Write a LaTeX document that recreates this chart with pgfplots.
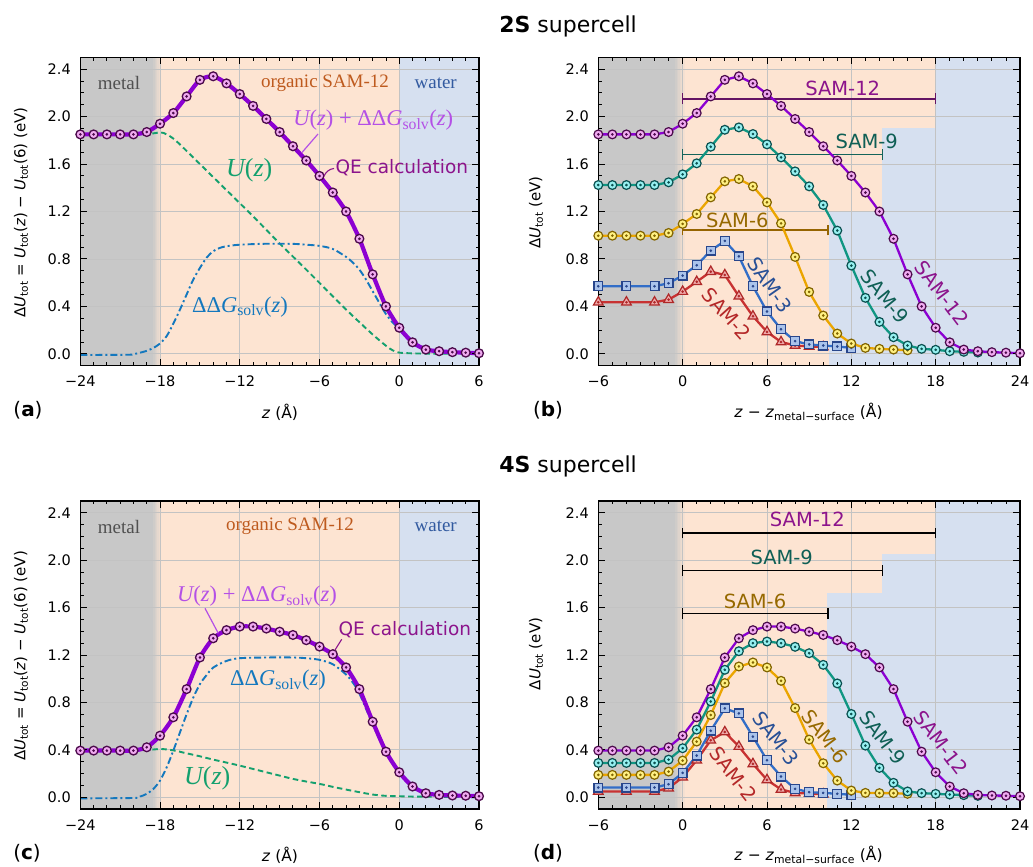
\documentclass[border=0pt]{standalone}
\usepackage{fontspec}
\setmainfont{DejaVu Sans}
\newfontfamily\lserif{Liberation Serif}
\usepackage{pgfplots}
\usepackage{pgfplotstable}
\pgfplotsset{compat=1.18}
\newcommand\fs[1]{\fontsize{#1}{#1}\selectfont}
\newcommand\tot{\textsubscript{tot}}
\newcommand\Uz{{\itshape U}({\itshape z})}
\newcommand\DDG{ΔΔ{\itshape G}\textsubscript{solv}({\itshape z})}

\definecolor{cgray}{RGB}{200,200,200}
\definecolor{cpeach}{RGB}{253,228,210}
\definecolor{cblue}{RGB}{214,224,240}
\definecolor{cpurple}{RGB}{140,0,210}
\definecolor{cpfill}{RGB}{240,170,240}
\definecolor{cpedge}{RGB}{75,10,75}
\definecolor{cteal}{RGB}{16,150,130}
\definecolor{ctfill}{RGB}{150,240,240}
\definecolor{ctedge}{RGB}{10,80,80}
\definecolor{cgold}{RGB}{235,165,0}
\definecolor{cgfill}{RGB}{255,240,130}
\definecolor{cgedge}{RGB}{130,100,0}
\definecolor{cbl}{RGB}{50,110,200}
\definecolor{cbfill}{RGB}{170,195,235}
\definecolor{cbedge}{RGB}{40,70,140}
\definecolor{cred}{RGB}{200,50,50}
\definecolor{crfill}{RGB}{240,170,170}
\definecolor{credge}{RGB}{175,40,40}
\definecolor{cgreen}{RGB}{20,160,110}
\definecolor{cbdash}{RGB}{20,120,190}
\definecolor{tpurple}{RGB}{140,20,140}
\definecolor{tviolet}{RGB}{180,80,230}
\definecolor{tteal}{RGB}{15,95,85}
\definecolor{tgold}{RGB}{150,105,0}
\definecolor{tblue}{RGB}{40,80,150}
\definecolor{tred}{RGB}{180,40,40}
\definecolor{tmetal}{RGB}{80,80,80}
\definecolor{torg}{RGB}{190,90,30}
\definecolor{twater}{RGB}{50,90,160}
\definecolor{bpurple}{RGB}{100,20,100}
\definecolor{bteal}{RGB}{20,100,90}
\definecolor{bgold}{RGB}{150,100,0}
\definecolor{cgrid}{RGB}{195,195,195}

\pgfplotstableread{
z qe
-24 1.85
-23 1.85
-22 1.85
-21 1.85
-20 1.85
-19 1.87
-18 1.94
-17 2.03
-16 2.17
-15 2.31
-14 2.34
-13 2.28
-12 2.19
-11 2.09
-10 1.98
-9 1.87
-8 1.75
-7 1.63
-6 1.50
-5 1.36
-4 1.20
-3 0.97
-2 0.67
-1 0.40
0 0.22
1 0.097
2 0.036
3 0.022
4 0.014
5 0.010
6 0.005
}\QEa

\pgfplotstableread{
z qe
-24 0.393
-23 0.393
-22 0.393
-21 0.393
-20 0.393
-19 0.421
-18 0.519
-17 0.674
-16 0.912
-15 1.179
-14 1.341
-13 1.410
-12 1.440
-11 1.440
-10 1.423
-9 1.397
-8 1.369
-7 1.325
-6 1.271
-5 1.207
-4 1.095
-3 0.912
-2 0.637
-1 0.384
0 0.210
1 0.090
2 0.033
3 0.019
4 0.014
5 0.012
6 0.008
}\QEc

\pgfplotstableread{
z u
-24 1.85
-19 1.855
-18 1.868
-17.5 1.85
-17 1.815
-16.5 1.765
-16 1.71
-15 1.60
-14 1.49
-13 1.38
-12 1.27
-11 1.16
-10 1.045
-9 0.93
-8 0.82
-7 0.71
-6 0.598
-5 0.485
-4 0.373
-3 0.267
-2 0.163
-1 0.068
-0.5 0.03
0 0.01
1 0.004
2 0.002
6 0.0
}\Ua

\pgfplotstableread{
z g
-24 -0.01
-20.5 -0.008
-20 -0.003
-19.5 0.01
-19 0.025
-18.5 0.05
-18 0.087
-17.5 0.15
-17 0.255
-16.5 0.373
-16 0.50
-15.5 0.626
-15 0.724
-14.5 0.81
-14 0.865
-13.5 0.893
-13 0.907
-12 0.92
-10 0.928
-8 0.927
-7 0.92
-6 0.91
-5 0.884
-4 0.817
-3.5 0.77
-3 0.71
-2.5 0.626
-2 0.528
-1.5 0.43
-1 0.335
-0.5 0.265
0 0.21
1 0.09
2 0.034
3 0.02
4 0.012
6 0.0
}\Ga

\pgfplotstableread{
z u
-24 0.393
-19 0.40
-18 0.407
-17 0.395
-16 0.37
-15 0.345
-14 0.317
-13 0.292
-12 0.266
-11 0.238
-10 0.21
-9 0.182
-8 0.154
-7 0.132
-6 0.112
-5 0.087
-4 0.064
-3 0.042
-2 0.022
-1 0.011
0 0.008
1 0.005
6 0.0
}\Uc

\pgfplotstableread{
z g
-24 -0.01
-20 -0.007
-19.5 0.005
-19 0.028
-18.5 0.07
-18 0.14
-17.5 0.252
-17 0.393
-16.5 0.547
-16 0.70
-15.5 0.84
-15 0.954
-14.5 1.03
-14 1.094
-13 1.15
-12 1.173
-10 1.179
-8 1.179
-7 1.173
-6 1.159
-5 1.122
-4 1.035
-3.5 0.968
-3 0.875
-2 0.615
-1 0.373
0 0.202
1 0.085
2 0.03
3 0.015
6 0.0
}\Gc

\pgfplotstableread{
x y
-6 1.423
-5 1.423
-4 1.423
-3 1.423
-2 1.423
-1 1.446
0 1.513
1 1.606
2 1.746
3 1.889
4 1.909
5 1.853
6 1.766
7 1.656
8 1.538
9 1.412
10 1.255
11 1.039
12 0.744
13 0.472
14 0.269
15 0.140
16 0.070
17 0.042
18 0.034
19 0.022
20 0.017
21 0.011
}\Bnine

\pgfplotstableread{
x y
-6 0.996
-5 0.996
-4 0.996
-3 0.996
-2 0.996
-1 1.019
0 1.095
1 1.179
2 1.319
3 1.454
4 1.474
5 1.412
6 1.277
7 1.100
8 0.817
9 0.522
10 0.323
11 0.171
12 0.087
13 0.050
14 0.042
15 0.036
16 0.030
}\Bsix

\pgfplotstableread{
x y
-6 0.570
-4 0.570
-2 0.570
-1 0.595
0 0.660
1 0.747
2 0.870
3 0.952
4 0.822
5 0.570
6 0.357
7 0.207
8 0.107
9 0.079
10 0.070
11 0.062
12 0.050
}\Bthree

\pgfplotstableread{
x y
-6 0.435
-4 0.435
-2 0.435
-1 0.457
0 0.525
1 0.608
2 0.693
3 0.665
4 0.486
5 0.317
6 0.185
7 0.100
8 0.070
9 0.062
10 0.058
}\Btwo

\pgfplotstableread{
x y
-6 0.289
-5 0.289
-4 0.289
-3 0.289
-2 0.289
-1 0.317
0 0.413
1 0.570
2 0.808
3 1.075
4 1.232
5 1.300
6 1.314
7 1.300
8 1.269
9 1.215
10 1.117
11 0.960
12 0.702
13 0.435
14 0.247
15 0.121
16 0.048
17 0.034
18 0.028
19 0.022
20 0.017
21 0.011
}\Dnine

\pgfplotstableread{
x y
-6 0.188
-5 0.188
-4 0.188
-3 0.188
-2 0.188
-1 0.216
0 0.309
1 0.469
2 0.693
3 0.963
4 1.103
5 1.137
6 1.095
7 0.982
8 0.752
9 0.486
10 0.286
11 0.140
12 0.056
13 0.036
14 0.034
15 0.034
16 0.028
}\Dsix

\pgfplotstableread{
x y
-6 0.081
-4 0.081
-2 0.081
-1 0.109
0 0.205
1 0.351
2 0.561
3 0.749
4 0.707
5 0.511
6 0.312
7 0.174
8 0.070
9 0.042
10 0.036
11 0.028
12 0.020
}\Dthree

\pgfplotstableread{
x y
-6 0.048
-4 0.048
-2 0.048
-1 0.076
0 0.168
1 0.312
2 0.480
3 0.550
4 0.427
5 0.281
6 0.146
7 0.065
8 0.036
9 0.030
10 0.025
}\Dtwo

\pgfplotsset{
  myaxis/.style={
    scale only axis, anchor=south west, clip=false, axis on top,
    ymin=-0.1, ymax=2.5,
    ytick={0,0.4,0.8,1.2,1.6,2.0,2.4},
    yticklabels={0.0,0.4,0.8,1.2,1.6,2.0,2.4},
    minor y tick num=3, minor x tick num=5,
    tick align=inside,
    major tick length=7pt, minor tick length=3.5pt,
    every tick/.style={black, line width=0.9pt},
    axis line style={line width=1.5pt},
    tick label style={font=\fs{14.5}},
    xticklabel style={yshift=-7pt}, yticklabel style={xshift=-6pt},
    width=398.7pt, height=308.4pt,
  },
  rightaxis/.style={myaxis, width=421.7pt, xmin=-6, xmax=24,
    xtick={-6,0,6,12,18,24}, xticklabels={−6,0,6,12,18,24}},
  leftaxis/.style={myaxis, xmin=-24, xmax=6,
    xtick={-24,-18,-12,-6,0,6}, xticklabels={−24,−18,−12,−6,0,6}},
  samline/.style n args={3}{color=#1, line width=2.3pt, mark options={fill=#2, draw=#3, line width=1.2pt, solid}},
  dots/.style={only marks, mark=*, mark size=1.1pt, color=#1, mark options={solid}},
  qeline/.style={cpurple, line width=4.2pt, smooth, tension=0.4},
  qemarks/.style={only marks, mark=*, mark size=4.4pt, mark options={fill=cpfill, draw=cpedge, line width=1.3pt}},
}
% stepwise gradient from gray to peach between #1 and #2 (x in axis units)
\newcommand\fadeband[2]{%
  \pgfmathsetmacro\fbw{(#2-#1)/6}%
  \fill[cgray!86!cpeach] (axis cs:#1,-0.1) rectangle (axis cs:#1+\fbw,2.5);
  \fill[cgray!72!cpeach] (axis cs:#1+\fbw,-0.1) rectangle (axis cs:#1+2*\fbw,2.5);
  \fill[cgray!58!cpeach] (axis cs:#1+2*\fbw,-0.1) rectangle (axis cs:#1+3*\fbw,2.5);
  \fill[cgray!44!cpeach] (axis cs:#1+3*\fbw,-0.1) rectangle (axis cs:#1+4*\fbw,2.5);
  \fill[cgray!30!cpeach] (axis cs:#1+4*\fbw,-0.1) rectangle (axis cs:#1+5*\fbw,2.5);
  \fill[cgray!15!cpeach] (axis cs:#1+5*\fbw,-0.1) rectangle (axis cs:#2,2.5);
}

\begin{document}
\begin{tikzpicture}
\path[use as bounding box] (0,0) rectangle (1033pt,867pt);

% ---------------- (a)
\begin{axis}[leftaxis, at={(80.3pt,501.3pt)}]
\fill[cpeach] (axis cs:-18.5,-0.1) rectangle (axis cs:0,2.5);
\fill[cgray] (axis cs:-24,-0.1) rectangle (axis cs:-18.5,2.5);
\fadeband{-18.5}{-17.9}
\fill[cblue] (axis cs:0,-0.1) rectangle (axis cs:6,2.5);
\pgfplotsinvokeforeach{0,0.4,0.8,1.2,1.6,2.0,2.4}{\draw[cgrid, line width=0.8pt] (axis cs:-24,#1) -- (axis cs:6,#1);}
\pgfplotsinvokeforeach{-18,-12,-6,0}{\draw[cgrid, line width=0.8pt] (axis cs:#1,-0.1) -- (axis cs:#1,2.5);}
\addplot[cgreen, line width=1.9pt, dash pattern=on 5.5pt off 3.5pt, smooth] table {\Ua};
\addplot[cbdash, line width=1.9pt, dash pattern=on 7pt off 3pt on 2pt off 3pt, smooth] table {\Ga};
\addplot[qeline] table {\QEa};
\addplot[qemarks] table {\QEa};
\addplot[dots=cpedge] table {\QEa};
\end{axis}

% ---------------- (b)
\begin{axis}[rightaxis, at={(598.3pt,501.3pt)}]
\fill[cpeach] (axis cs:-0.55,-0.1) rectangle (axis cs:18,2.5);
\fill[cblue] (axis cs:10.4,-0.1) rectangle (axis cs:24,1.2);
\fill[cblue] (axis cs:14.2,-0.1) rectangle (axis cs:24,1.9);
\fill[cblue] (axis cs:18,-0.1) rectangle (axis cs:24,2.5);
\fill[cgray] (axis cs:-6,-0.1) rectangle (axis cs:-0.55,2.5);
\fadeband{-0.55}{0.15}
\pgfplotsinvokeforeach{0,0.4,0.8,1.2,1.6,2.0,2.4}{\draw[cgrid, line width=0.8pt] (axis cs:-6,#1) -- (axis cs:24,#1);}
\pgfplotsinvokeforeach{0,6,12,18}{\draw[cgrid, line width=0.8pt] (axis cs:#1,-0.1) -- (axis cs:#1,2.5);}
\draw[bpurple, line width=1.4pt] (axis cs:0,2.15) -- (axis cs:18,2.15);
\draw[bpurple, line width=1.4pt] (axis cs:0,2.105) -- (axis cs:0,2.195) (axis cs:18,2.105) -- (axis cs:18,2.195);
\draw[bteal, line width=1.4pt] (axis cs:0,1.678) -- (axis cs:14.2,1.678);
\draw[bteal, line width=1.4pt] (axis cs:0,1.633) -- (axis cs:0,1.723) (axis cs:14.2,1.633) -- (axis cs:14.2,1.723);
\draw[bgold, line width=1.4pt] (axis cs:0,1.044) -- (axis cs:10.35,1.044);
\draw[bgold, line width=1.4pt] (axis cs:0,0.999) -- (axis cs:0,1.089) (axis cs:10.35,0.999) -- (axis cs:10.35,1.089);
\addplot[samline={cred}{crfill}{credge}, mark=triangle*, mark size=5.6pt] table {\Btwo};
\addplot[dots=credge] table {\Btwo};
\addplot[samline={cbl}{cbfill}{cbedge}, mark=square*, mark size=4.4pt] table {\Bthree};
\addplot[dots=cbedge] table {\Bthree};
\addplot[samline={cgold}{cgfill}{cgedge}, mark=*, mark size=4.4pt] table {\Bsix};
\addplot[dots=cgedge] table {\Bsix};
\addplot[samline={cteal}{ctfill}{ctedge}, mark=*, mark size=4.4pt] table {\Bnine};
\addplot[dots=ctedge] table {\Bnine};
\addplot[samline={cpurple}{cpfill}{cpedge}, mark=*, mark size=4.4pt] table[x expr=\thisrow{z}+18, y=qe] {\QEa};
\addplot[dots=cpedge] table[x expr=\thisrow{z}+18, y=qe] {\QEa};
\end{axis}

% ---------------- (c)
\begin{axis}[leftaxis, at={(80.3pt,58pt)}, height=308pt]
\fill[cpeach] (axis cs:-18.5,-0.1) rectangle (axis cs:0,2.5);
\fill[cgray] (axis cs:-24,-0.1) rectangle (axis cs:-18.5,2.5);
\fadeband{-18.5}{-17.9}
\fill[cblue] (axis cs:0,-0.1) rectangle (axis cs:6,2.5);
\pgfplotsinvokeforeach{0,0.4,0.8,1.2,1.6,2.0,2.4}{\draw[cgrid, line width=0.8pt] (axis cs:-24,#1) -- (axis cs:6,#1);}
\pgfplotsinvokeforeach{-18,-12,-6,0}{\draw[cgrid, line width=0.8pt] (axis cs:#1,-0.1) -- (axis cs:#1,2.5);}
\addplot[cgreen, line width=1.9pt, dash pattern=on 5.5pt off 3.5pt, smooth] table {\Uc};
\addplot[cbdash, line width=1.9pt, dash pattern=on 7pt off 3pt on 2pt off 3pt, smooth] table {\Gc};
\addplot[qeline] table {\QEc};
\addplot[qemarks] table {\QEc};
\addplot[dots=cpedge] table {\QEc};
\end{axis}

% ---------------- (d)
\begin{axis}[rightaxis, at={(598.3pt,58pt)}, height=308pt]
\fill[cpeach] (axis cs:-0.55,-0.1) rectangle (axis cs:18,2.5);
\fill[cblue] (axis cs:10.3,-0.1) rectangle (axis cs:24,1.72);
\fill[cblue] (axis cs:14.2,-0.1) rectangle (axis cs:24,2.05);
\fill[cblue] (axis cs:18,-0.1) rectangle (axis cs:24,2.5);
\fill[cgray] (axis cs:-6,-0.1) rectangle (axis cs:-0.55,2.5);
\fadeband{-0.55}{0.15}
\pgfplotsinvokeforeach{0,0.4,0.8,1.2,1.6,2.0,2.4}{\draw[cgrid, line width=0.8pt] (axis cs:-6,#1) -- (axis cs:24,#1);}
\pgfplotsinvokeforeach{0,6,12,18}{\draw[cgrid, line width=0.8pt] (axis cs:#1,-0.1) -- (axis cs:#1,2.5);}
\draw[black, line width=1.4pt] (axis cs:0,2.23) -- (axis cs:18,2.23);
\draw[black, line width=1.4pt] (axis cs:0,2.185) -- (axis cs:0,2.275) (axis cs:18,2.185) -- (axis cs:18,2.275);
\draw[black, line width=1.4pt] (axis cs:0,1.914) -- (axis cs:14.2,1.914);
\draw[black, line width=1.4pt] (axis cs:0,1.869) -- (axis cs:0,1.959) (axis cs:14.2,1.869) -- (axis cs:14.2,1.959);
\draw[black, line width=1.4pt] (axis cs:0,1.55) -- (axis cs:10.35,1.55);
\draw[black, line width=1.4pt] (axis cs:0,1.505) -- (axis cs:0,1.595) (axis cs:10.35,1.505) -- (axis cs:10.35,1.595);
\addplot[samline={cred}{crfill}{credge}, mark=triangle*, mark size=5.6pt] table {\Dtwo};
\addplot[dots=credge] table {\Dtwo};
\addplot[samline={cbl}{cbfill}{cbedge}, mark=square*, mark size=4.4pt] table {\Dthree};
\addplot[dots=cbedge] table {\Dthree};
\addplot[samline={cgold}{cgfill}{cgedge}, mark=*, mark size=4.4pt] table {\Dsix};
\addplot[dots=cgedge] table {\Dsix};
\addplot[samline={cteal}{ctfill}{ctedge}, mark=*, mark size=4.4pt] table {\Dnine};
\addplot[dots=ctedge] table {\Dnine};
\addplot[samline={cpurple}{cpfill}{cpedge}, mark=*, mark size=4.4pt] table[x expr=\thisrow{z}+18, y=qe] {\QEc};
\addplot[dots=cpedge] table[x expr=\thisrow{z}+18, y=qe] {\QEc};
\end{axis}

% ---------------- text, in image pixel coordinates
\begin{scope}[x=1pt, y=-1pt, yshift=867pt]
\node[anchor=base, font=\fs{22}] at (568,33) {\textbf{2S} supercell};
\node[anchor=base, font=\fs{22}] at (568,473) {\textbf{4S} supercell};
\node[font=\fs{20}] at (28,410) {(\textbf{a})};
\node[font=\fs{20}] at (548,410) {(\textbf{b})};
\node[font=\fs{20}] at (27,853) {(\textbf{c})};
\node[font=\fs{20}] at (548,853) {(\textbf{d})};
\node[font=\fs{15.5}] at (280,412) {\textit{z} (Å)};
\node[font=\fs{15.5}] at (808.5,412) {\textit{z} − \textit{z}\textsubscript{metal−surface} (Å)};
\node[font=\fs{15.5}] at (280,855) {\textit{z} (Å)};
\node[font=\fs{15.5}] at (808.5,855) {\textit{z} − \textit{z}\textsubscript{metal−surface} (Å)};
\node[rotate=90, font=\fs{15}] at (21,212.5) {Δ\textit{U}\tot\ = \textit{U}\tot(\textit{z}) − \textit{U}\tot(6) (eV)};
\node[rotate=90, font=\fs{15}] at (21,656) {Δ\textit{U}\tot\ = \textit{U}\tot(\textit{z}) − \textit{U}\tot(6)  (eV)};
\node[rotate=90, font=\fs{15}] at (536,212.5) {Δ\textit{U}\tot\ (eV)};
\node[rotate=90, font=\fs{15}] at (536,654) {Δ\textit{U}\tot\ (eV)};
% (a)
\node[font=\lserif\fs{19}, text=tmetal] at (119,83.3) {metal};
\node[font=\lserif\fs{19}, text=torg] at (325,83.3) {organic SAM-12};
\node[font=\lserif\fs{19}, text=twater] at (435.7,83.3) {water};
\node[text=tviolet, font=\lserif\fs{22.5}] at (373.3,120) {\Uz\ + \DDG};
\draw[tviolet, line width=1.2pt] (318,134) -- (302,152.5);
\node[text=tpurple, font=\fs{18.5}, anchor=west] at (332,167.7) {QE calculation};
\draw[tpurple, line width=1.1pt] (334,168.5) .. controls (329,169) and (326,172) .. (324,176);
\node[text=cgreen, font=\lserif\fs{26}] at (249.3,170) {\Uz};
\node[text=cbdash, font=\lserif\fs{22.5}] at (240,306.7) {\DDG};
% (c)
\node[font=\lserif\fs{19}, text=tmetal] at (119,526.7) {metal};
\node[font=\lserif\fs{19}, text=torg] at (290,526.7) {organic SAM-12};
\node[font=\lserif\fs{19}, text=twater] at (435.7,526.7) {water};
\node[text=tviolet, font=\lserif\fs{22.5}] at (257,596) {\Uz\ + \DDG};
\draw[tviolet, line width=1.2pt] (205,608.3) -- (218.3,633.3);
\node[text=tpurple, font=\fs{18.5}, anchor=west] at (335,630) {QE calculation};
\draw[tpurple, line width=1.1pt] (341.7,639.3) -- (335,650);
\node[text=cbdash, font=\lserif\fs{22.5}] at (278,680) {\DDG};
\node[text=cgreen, font=\lserif\fs{26}] at (207.3,778.3) {\Uz};
% (b)
\node[text=tpurple, font=\fs{19.5}] at (842.7,88.3) {SAM-12};
\node[text=tteal, font=\fs{19.5}] at (866.7,141.7) {SAM-9};
\node[text=tgold, font=\fs{19.5}] at (737.3,220) {SAM-6};
\node[text=tblue, font=\fs{19.5}, rotate=-55] at (770,285) {SAM-3};
\node[text=tred, font=\fs{19.5}, rotate=-48] at (726.7,314) {SAM-2};
\node[text=tteal, font=\fs{19.5}, rotate=-51] at (885,296.7) {SAM-9};
\node[text=tpurple, font=\fs{19.5}, rotate=-53] at (941.7,293.3) {SAM-12};
% (d)
\node[text=tpurple, font=\fs{19.5}] at (807.3,519.3) {SAM-12};
\node[text=tteal, font=\fs{19.5}] at (781.7,557.3) {SAM-9};
\node[text=tgold, font=\fs{19.5}] at (755,601) {SAM-6};
\node[text=tblue, font=\fs{19.5}, rotate=-52] at (776,738.3) {SAM-3};
\node[text=tred, font=\fs{19.5}, rotate=-52] at (733.3,774) {SAM-2};
\node[text=tgold, font=\fs{19.5}, rotate=-53] at (825,736.7) {SAM-6};
\node[text=tteal, font=\fs{19.5}, rotate=-53] at (882.7,737.7) {SAM-9};
\node[text=tpurple, font=\fs{19.5}, rotate=-53] at (940.7,742.7) {SAM-12};
\end{scope}
\end{tikzpicture}
\end{document}
